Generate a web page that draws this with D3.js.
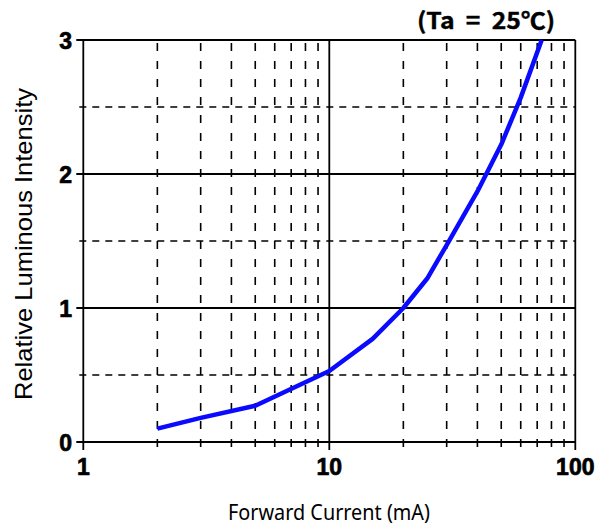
<!DOCTYPE html>
<html>
<head>
<meta charset="utf-8">
<script src="https://cdn.jsdelivr.net/npm/d3@7"></script>
<style>
  body { margin: 0; background: #fff; }
  svg { display: block; }
</style>
</head>
<body>
<div id="chart"></div>
<script>
// forward current (mA) vs relative luminous intensity
const current = [2, 3, 5, 10, 15, 20, 25, 30, 40, 50, 60, 73];
const intensity = [0.10, 0.18, 0.27, 0.53, 0.77, 1.0, 1.22, 1.47, 1.87, 2.22, 2.57, 3.0];

const xMajor = [1, 10, 100];
const xMinor = [2, 3, 4, 5, 6, 7, 8, 9, 20, 30, 40, 50, 60, 70, 80, 90];
const yMajor = [0, 1, 2, 3];
const yMinor = [0.5, 1.5, 2.5];

const width = 608, height = 526;
const margin = {top: 40, right: 32.7, bottom: 84, left: 83.3};

const svg = d3.select("#chart").append("svg")
  .attr("width", width)
  .attr("height", height);

const x = d3.scaleLog()
  .domain([1, 100])
  .range([margin.left, width - margin.right]);

const y = d3.scaleLinear()
  .domain([0, 3])
  .range([height - margin.bottom, margin.top]);

const grid = svg.append("g");

// dashed minor grid
grid.selectAll(".vminor")
  .data(xMinor)
  .join("line")
    .attr("x1", d => x(d))
    .attr("x2", d => x(d))
    .attr("y1", y(3))
    .attr("y2", y(0) + 5)
    .attr("stroke", "#000")
    .attr("stroke-width", 1.6)
    .attr("stroke-dasharray", "8,10")
    .attr("stroke-dashoffset", -3);

grid.selectAll(".hminor")
  .data(yMinor)
  .join("line")
    .attr("x1", x(1) - 4)
    .attr("x2", x(100))
    .attr("y1", d => y(d))
    .attr("y2", d => y(d))
    .attr("stroke", "#000")
    .attr("stroke-width", 1.6)
    .attr("stroke-dasharray", "7,6");

// solid major grid + ticks
grid.selectAll(".vmajor")
  .data(xMajor)
  .join("line")
    .attr("x1", d => x(d))
    .attr("x2", d => x(d))
    .attr("y1", y(3))
    .attr("y2", y(0) + 8)
    .attr("stroke", "#000")
    .attr("stroke-width", 1.8);

grid.selectAll(".hmajor")
  .data(yMajor)
  .join("line")
    .attr("x1", x(1) - 7)
    .attr("x2", x(100))
    .attr("y1", d => y(d))
    .attr("y2", d => y(d))
    .attr("stroke", "#000")
    .attr("stroke-width", 1.8);

const labelFont = "'Liberation Sans', Arial, sans-serif";

// tick labels
svg.append("g").selectAll("text")
  .data(xMajor)
  .join("text")
    .attr("x", d => x(d))
    .attr("y", 475)
    .attr("text-anchor", "middle")
    .attr("stroke", "#000")
    .attr("stroke-width", 0.7)
    .style("font-family", labelFont)
    .style("font-weight", "700")
    .style("font-size", "23px")
    .text(d => d);

svg.append("g").selectAll("text")
  .data(yMajor)
  .join("text")
    .attr("x", 72)
    .attr("y", d => y(d) + 8.5)
    .attr("text-anchor", "end")
    .attr("stroke", "#000")
    .attr("stroke-width", 0.7)
    .style("font-family", labelFont)
    .style("font-weight", "700")
    .style("font-size", "23px")
    .text(d => d);

// curve
const line = d3.line()
  .x(d => x(d[0]))
  .y(d => y(d[1]));

svg.append("path")
  .datum(d3.zip(current, intensity))
  .attr("d", line)
  .attr("fill", "none")
  .attr("stroke", "#0a0aff")
  .attr("stroke-width", 4.5)
  .attr("stroke-linejoin", "round")
  .attr("stroke-linecap", "butt");

// axis titles
svg.append("text")
  .attr("x", 329)
  .attr("y", 520)
  .attr("text-anchor", "middle")
  .style("font-family", "'Noto Sans', sans-serif")
  .style("font-size", "21px")
  .attr("textLength", 202)
  .attr("lengthAdjust", "spacingAndGlyphs")
  .text("Forward Current (mA)");

svg.append("text")
  .attr("transform", "translate(32,244) rotate(-90)")
  .attr("text-anchor", "middle")
  .style("font-family", labelFont)
  .style("font-size", "24px")
  .attr("textLength", 312)
  .attr("lengthAdjust", "spacingAndGlyphs")
  .text("Relative Luminous Intensity");

svg.append("text")
  .attr("x", 486)
  .attr("y", 29)
  .attr("text-anchor", "middle")
  .attr("stroke", "#000")
  .attr("stroke-width", 0.4)
  .style("font-family", "'Noto Sans CJK KR', 'Noto Sans', sans-serif")
  .style("font-weight", "700")
  .style("font-size", "23px")
  .style("white-space", "pre")
  .attr("textLength", 138)
  .attr("lengthAdjust", "spacingAndGlyphs")
  .text("(Ta  =  25℃)");
</script>
</body>
</html>
